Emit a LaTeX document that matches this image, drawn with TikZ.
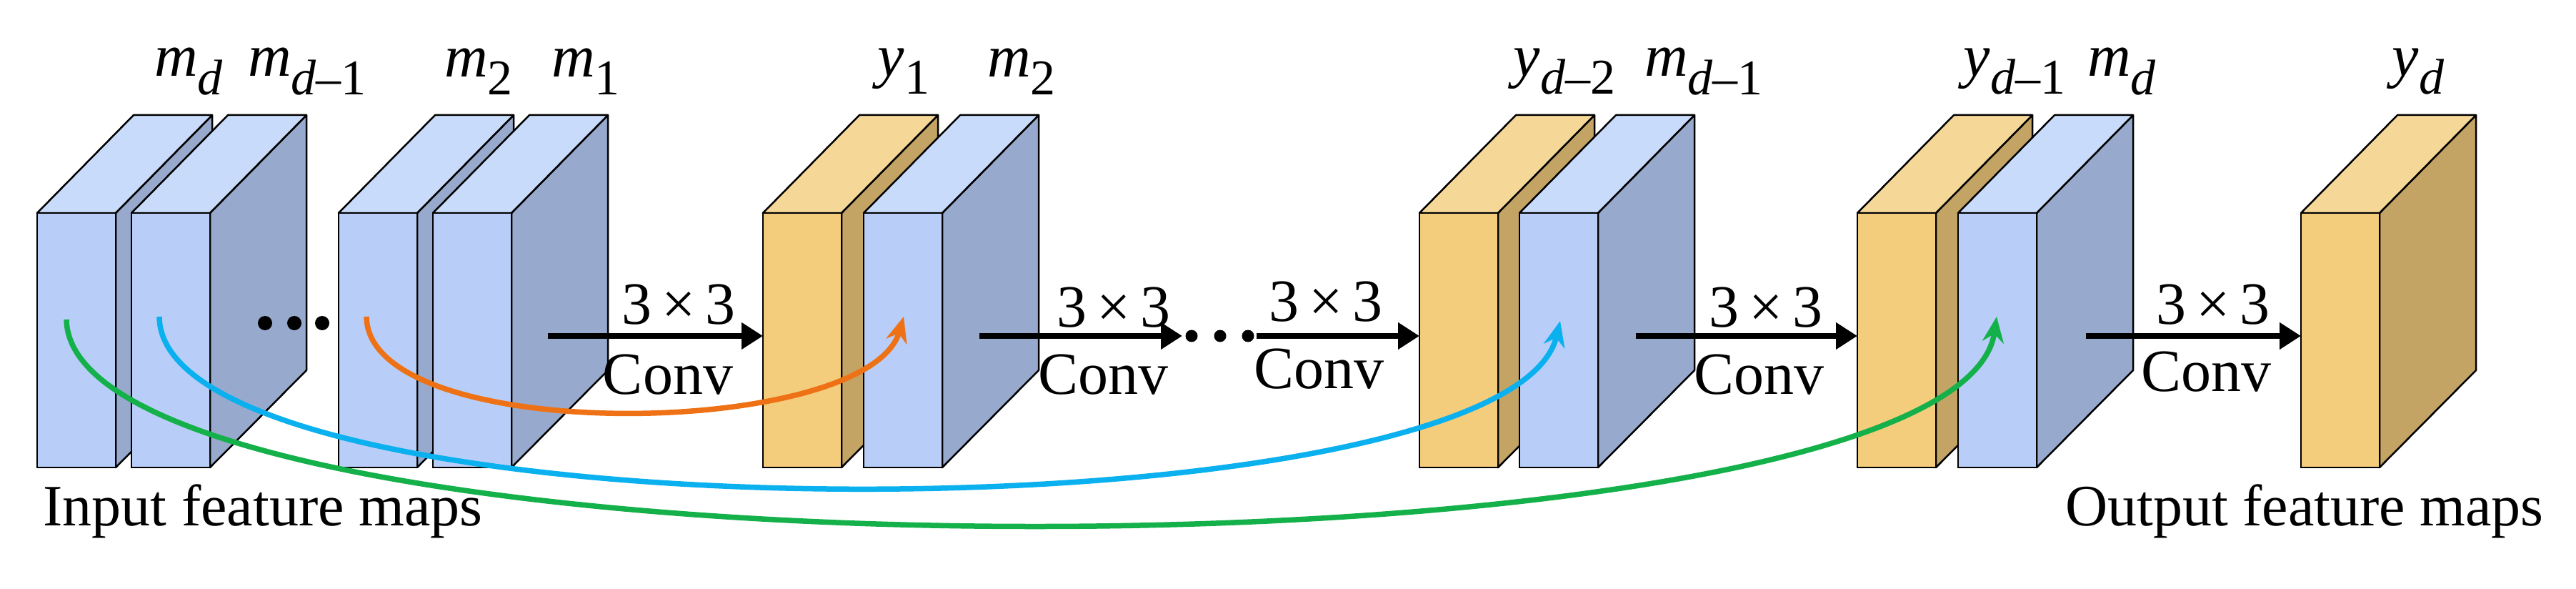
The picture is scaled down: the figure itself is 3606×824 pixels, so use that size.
\documentclass[tikz,border=0pt]{standalone}
\usepackage{fontspec}
\setmainfont{Liberation Serif}
\usetikzlibrary{arrows.meta}
\definecolor{bF}{HTML}{B8CEF8}\definecolor{bT}{HTML}{C9DBFA}\definecolor{bS}{HTML}{97A9CC}
\definecolor{yF}{HTML}{F3CC7C}\definecolor{yT}{HTML}{F5D797}\definecolor{yS}{HTML}{C4A465}
\definecolor{cO}{HTML}{EE7215}\definecolor{cB}{HTML}{0BB0EE}\definecolor{cG}{HTML}{14B04A}
\newcommand{\fmap}[4]{% x, front, top, side
  \fill[#4,draw=black,line width=2.5pt,line join=round] (#1+110,298)--(#1+245,161)--(#1+245,518)--(#1+110,654)--cycle;
  \fill[#3,draw=black,line width=2.5pt,line join=round] (#1,298)--(#1+135,161)--(#1+245,161)--(#1+110,298)--cycle;
  \fill[#2,draw=black,line width=2.5pt] (#1,298) rectangle (#1+110,654);
}
\newcommand{\lbl}[3]{\node[lab] (#1) at (#2,100) {#3};}
\newcommand{\sbs}[1]{\raisebox{-0.3em}{\fontsize{70}{70}\selectfont #1}}
\begin{document}
\begin{tikzpicture}[x=1pt,y=-1pt,
  lab/.style={font=\fontsize{84}{84}\selectfont\itshape,inner sep=0},
  cv/.style={font=\fontsize{84}{84}\selectfont,inner sep=0},
  captxt/.style={font=\fontsize{82}{82}\selectfont,inner sep=0},
  conv/.style={line width=8pt,-{Triangle[length=30pt,width=36pt]}},
  skip/.style={line width=7.5pt,-{Stealth[length=36pt,width=30pt]}},
  dot/.style={circle,fill=black,inner sep=0,minimum size=20pt}]
\useasboundingbox (0,0) rectangle (3606,824);
\fmap{52}{bF}{bT}{bS}
\fmap{184}{bF}{bT}{bS}
\fmap{474}{bF}{bT}{bS}
\fmap{606}{bF}{bT}{bS}
\fmap{1068}{yF}{yT}{yS}
\fmap{1209}{bF}{bT}{bS}
\fmap{1987}{yF}{yT}{yS}
\fmap{2127}{bF}{bT}{bS}
\fmap{2600}{yF}{yT}{yS}
\fmap{2741}{bF}{bT}{bS}
\fmap{3221}{yF}{yT}{yS}
\lbl{l1}{264}{m\sbs{d}}
\lbl{l2}{430}{m\sbs{d\upshape–1}}
\lbl{l3}{670}{m\sbs{\upshape 2}}
\lbl{l4}{820}{m\sbs{\upshape 1}}
\lbl{l5}{1265}{y\sbs{\upshape 1}}
\lbl{l6}{1430}{m\sbs{\upshape 2}}
\lbl{l7}{2190}{y\sbs{d\upshape–2}}
\lbl{l8}{2385}{m\sbs{d\upshape–1}}
\lbl{l9}{2820}{y\sbs{d\upshape–1}}
\lbl{l10}{2970}{m\sbs{d}}
\lbl{l11}{3385}{y\sbs{d}}
\node[dot] (d1) at (371,452) {};
\node[dot] (d2) at (412,452) {};
\node[dot] (d3) at (451,452) {};
\node[dot,minimum size=17pt] (d4) at (1668,470) {};
\node[dot,minimum size=17pt] (d5) at (1708,470) {};
\node[dot,minimum size=17pt] (d6) at (1747,470) {};
\coordinate (a1s) at (767,470); \coordinate (a1e) at (1068,470);
\coordinate (a2s) at (1371,470); \coordinate (a2e) at (1655,470);
\coordinate (a3s) at (1759,470); \coordinate (a3e) at (1987,470);
\coordinate (a4s) at (2290,470); \coordinate (a4e) at (2600,470);
\coordinate (a5s) at (2920,470); \coordinate (a5e) at (3221,470);
\draw[conv] (a1s)--(a1e); \draw[conv] (a2s)--(a2e); \draw[conv] (a3s)--(a3e);
\draw[conv] (a4s)--(a4e); \draw[conv] (a5s)--(a5e);
\node[cv] (t1) at (950,426) {3\,×\,3}; \node[cv] (c1) at (935,524) {Conv};
\node[cv] (t2) at (1559,430) {3\,×\,3}; \node[cv] (c2) at (1544,524) {Conv};
\node[cv] (t3) at (1856,422) {3\,×\,3}; \node[cv] (c3) at (1846,516) {Conv};
\node[cv] (t4) at (2472,430) {3\,×\,3}; \node[cv] (c4) at (2462,524) {Conv};
\node[cv] (t5) at (3098,426) {3\,×\,3}; \node[cv] (c5) at (3088,520) {Conv};
\coordinate (oS) at (513,443); \coordinate (oE) at (1265,443);
\coordinate (bS) at (223,443); \coordinate (bE) at (2184,449);
\coordinate (gS) at (93,447);  \coordinate (gE) at (2795,443);
\draw[skip,cO] (oS) .. controls (515,625) and (1215,615) .. (oE);
\draw[skip,cB] (bS) .. controls (225,760) and (2110,760) .. (bE);
\draw[skip,cG] (gS) .. controls (100,830) and (2740,830) .. (gE);
\node[captxt] (in) at (368,715) {Input feature maps};
\node[captxt] (out) at (3226,715) {Output feature maps};
\end{tikzpicture}
\end{document}
